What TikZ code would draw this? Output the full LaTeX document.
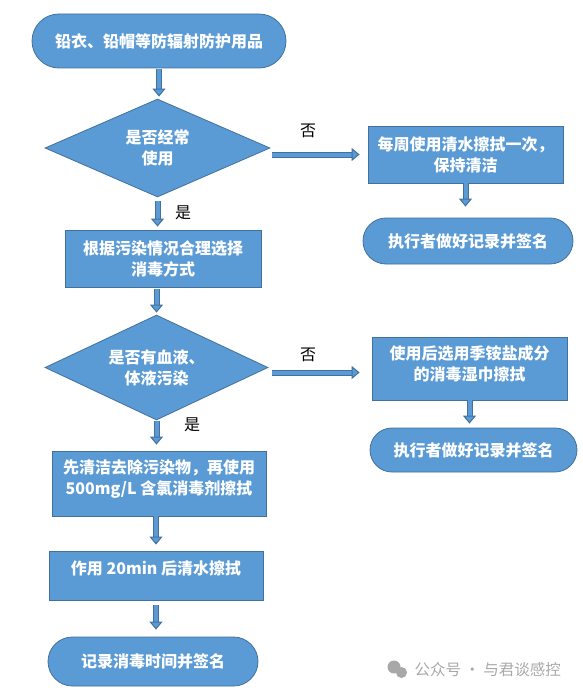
\documentclass[tikz,border=0pt]{standalone}
\usepackage{fontspec}
\newfontfamily\cjk{Noto Sans CJK SC}
\usetikzlibrary{shapes.geometric,shapes.misc,arrows.meta}
\definecolor{boxfill}{HTML}{5B9BD5}
\definecolor{boxline}{HTML}{41719C}
\definecolor{markgray}{HTML}{A8A8A8}
\tikzset{
  every node/.style={font=\cjk\bfseries\fontsize{16}{21}\selectfont},
  stadium/.style={rounded rectangle, draw=boxline, fill=boxfill, text=white,
    line width=0.8pt, inner sep=0pt},
  procbox/.style={rectangle, draw=boxline, fill=boxfill, text=white,
    line width=0.8pt, inner sep=0pt, align=center},
  decision/.style={diamond, aspect=2.2, draw=boxline, fill=boxfill, text=white,
    line width=0.8pt, inner sep=0pt, align=center},
  flowarrow/.style={draw=boxline, line width=1pt, double=boxfill,
    double distance=4pt, -{Triangle[length=8pt,width=13pt,fill=boxfill]}},
  answer/.style={font=\cjk\fontsize{16}{16}\selectfont, text=black}
}
\begin{document}
\begin{tikzpicture}[x=1pt,y=-1pt]
\useasboundingbox (0,0) rectangle (583,693);

% left column
\node[stadium, minimum width=254pt, minimum height=54pt] (items) at (159,41) {铅衣、铅帽等防辐射防护用品};
\node[decision, minimum width=225pt, minimum height=98pt] (often) at (157.5,148) {是否经常\\使用};
\node[procbox, minimum width=196pt, minimum height=57pt] (choose) at (163,258.5) {根据污染情况合理选择\\消毒方式};
\node[decision, minimum width=223pt, minimum height=105pt] (blood) at (156.5,367.5) {是否有血液、\\体液污染};
\node[procbox, minimum width=214pt, minimum height=65pt] (cleanse) at (159,483.5) {先清洁去除污染物，再使用\\500mg/L 含氯消毒剂擦拭\\[-8pt]\mbox{}};
\node[procbox, minimum width=214pt, minimum height=49pt] (rinse) at (156,575.5) {作用 20min 后清水擦拭\\[-6pt]\mbox{}};
\node[stadium, minimum width=210pt, minimum height=49pt] (record) at (153,661.5) {记录消毒时间并签名};

% right column
\node[procbox, minimum width=195pt, minimum height=57pt] (wash) at (465.5,154.5) {每周使用清水擦拭一次，\\保持清洁};
\node[stadium, minimum width=210pt, minimum height=46pt] (sign1) at (468,241) {执行者做好记录并签名};
\node[procbox, minimum width=195pt, minimum height=63pt] (wipe) at (469.5,368.5) {使用后选用季铵盐成分\\的消毒湿巾擦拭\\[-10pt]\mbox{}};
\node[stadium, minimum width=207pt, minimum height=44pt] (sign2) at (473.5,450) {执行者做好记录并签名};

% arrows
\draw[flowarrow, shorten <=1pt, shorten >=2pt] (items.south) -- (items.south |- often.north);
\draw[flowarrow, shorten <=4pt, shorten >=3pt] (often.south) -- (often.south |- choose.north);
\draw[flowarrow, shorten <=2pt, shorten >=2pt] (blood.north |- choose.south) -- (blood.north);
\draw[flowarrow, shorten <=1pt, shorten >=6pt] (blood.south) -- (blood.south |- cleanse.north);
\draw[flowarrow, shorten >=6pt] (rinse.north |- cleanse.south) -- (rinse.north);
\draw[flowarrow, shorten <=5pt, shorten >=7pt] (rinse.south) -- (rinse.south |- record.north);
\draw[flowarrow, shorten >=11pt] (wash.south) -- (wash.south |- sign1.north);
\draw[flowarrow, shorten >=4pt] (wipe.south) -- (wipe.south |- sign2.north);
\draw[flowarrow, shorten >=8pt] ([xshift=2pt]often.east |- wash.west) -- (wash.west);
\draw[flowarrow, shorten >=12pt] ([xshift=4pt,yshift=-5pt]blood.east) -- ([yshift=-5pt]blood.east -| wipe.west);

% yes / no
\node[answer] (no1) at (308,131) {否};
\node[answer] (yes1) at (183,213) {是};
\node[answer] (no2) at (308,355) {否};
\node[answer] (yes2) at (192,425) {是};

% watermark
\fill[markgray] (394,667) circle (6.5);
\fill[markgray] (401.5,672.5) circle (5.5);
\node[font=\cjk\fontsize{15.5}{15.5}\selectfont, text=markgray, anchor=west] (mark) at (411,670) {公众号 · 与君谈感控};
\end{tikzpicture}
\end{document}
